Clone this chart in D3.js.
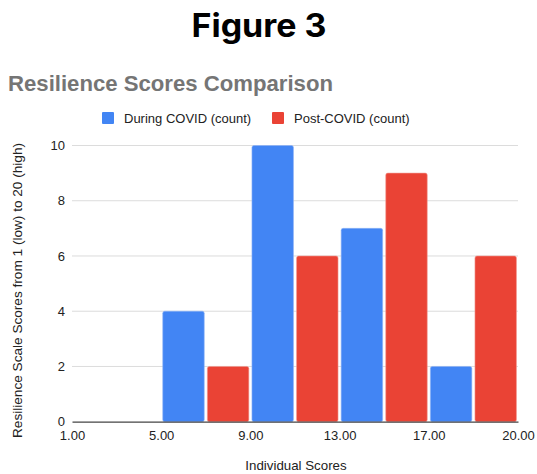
<!DOCTYPE html>
<html>
<head>
<meta charset="utf-8">
<script src="https://cdn.jsdelivr.net/npm/d3@7"></script>
<style>
  html, body { margin: 0; padding: 0; background: #fff; }
  svg { display: block; }
</style>
</head>
<body>
<svg id="chart" width="537" height="474"></svg>
<script>
// Bucket boundary labels along the x axis
const binLabels = ["1.00", "5.00", "9.00", "13.00", "17.00", "20.00"];
// Series names
const seriesNames = ["During COVID (count)", "Post-COVID (count)"];
// Counts per score bucket (1–5, 5–9, 9–13, 13–17, 17–20)
const duringCovid = [0, 4, 10, 7, 2];
const postCovid = [0, 2, 6, 9, 6];
// Y tick values
const yTicks = [0, 2, 4, 6, 8, 10];

const colors = ["#4285F4", "#EA4335"];
const svg = d3.select("#chart");
const W = 537, H = 474;
const margin = { left: 72, right: 19, top: 145.5, bottom: 52.3 };
const plotW = W - margin.left - margin.right;
const plotH = H - margin.top - margin.bottom;

const g = svg.append("g").attr("transform", `translate(${margin.left},${margin.top})`);

const x = d3.scaleLinear().domain([0, binLabels.length - 1]).range([0, plotW]);
const y = d3.scaleLinear().domain([0, 10]).range([plotH, 0]);
const sub = d3.scaleBand().domain(seriesNames).range([0, x(1) - x(0)]).paddingInner(0.07).paddingOuter(0.035);

// Heading
svg.append("text")
  .attr("x", 259).attr("y", 36.7)
  .attr("text-anchor", "middle")
  .style("font-family", "Inter, 'Open Sans', sans-serif")
  .style("font-weight", 700)
  .style("font-size", "32px")
  .attr("fill", "#000")
  .attr("textLength", 135)
  .attr("lengthAdjust", "spacingAndGlyphs")
  .text("Figure 3");

// Chart title
svg.append("text")
  .attr("x", 8).attr("y", 90.5)
  .style("font-family", "'Liberation Sans', Arial, sans-serif")
  .style("font-weight", 700)
  .style("font-size", "22px")
  .attr("fill", "#757575")
  .attr("textLength", 325)
  .attr("lengthAdjust", "spacingAndGlyphs")
  .text("Resilience Scores Comparison");

// Legend
const legendItems = [
  { name: seriesNames[0], color: colors[0], x: 102 },
  { name: seriesNames[1], color: colors[1], x: 272 }
];
const lg = svg.append("g").selectAll("g").data(legendItems).join("g")
  .attr("transform", d => `translate(${d.x},112)`);
lg.append("rect").attr("width", 12).attr("height", 12).attr("rx", 1).attr("fill", d => d.color);
lg.append("text")
  .attr("x", 22).attr("y", 10.5)
  .style("font-family", "'Liberation Sans', Arial, sans-serif")
  .style("font-size", "13px")
  .attr("fill", "#222")
  .text(d => d.name);

// Gridlines
g.append("g").selectAll("line").data(yTicks.filter(v => v > 0)).join("line")
  .attr("x1", 0).attr("x2", plotW)
  .attr("y1", d => y(d)).attr("y2", d => y(d))
  .attr("stroke", "#dcdcdc").attr("stroke-width", 1);

// Y axis labels
const yAxis = d3.axisLeft(y).tickValues(yTicks).tickSize(0).tickPadding(7).tickFormat(d3.format("d"));
g.append("g").call(yAxis)
  .call(s => s.select(".domain").remove())
  .call(s => s.selectAll("text")
    .style("font-family", "'Liberation Sans', Arial, sans-serif")
    .style("font-size", "13px")
    .attr("fill", "#222"));

// Bars
const rows = duringCovid.map((v, i) => ({ i, values: [v, postCovid[i]] }));
const groups = g.append("g").selectAll("g").data(rows).join("g")
  .attr("transform", d => `translate(${x(d.i)},0)`);
groups.selectAll("rect")
  .data(d => d.values.map((v, k) => ({ v, k })).filter(d => d.v > 0))
  .join("rect")
  .attr("x", d => sub(seriesNames[d.k]))
  .attr("width", sub.bandwidth())
  .attr("y", d => y(d.v))
  .attr("height", d => plotH - y(d.v))
  .attr("rx", 2)
  .attr("fill", d => colors[d.k])
  .attr("stroke", d => d.k === 0 ? "#8fb4f7" : "#f19a92")
  .attr("stroke-width", 0.6);

// X axis
const xAxis = d3.axisBottom(x).tickValues(d3.range(binLabels.length)).tickSize(0).tickPadding(9)
  .tickFormat(i => binLabels[i]);
g.append("g").attr("transform", `translate(0,${plotH})`).call(xAxis)
  .call(s => s.select(".domain").attr("stroke", "#444").attr("stroke-width", 1.2))
  .call(s => s.selectAll("text")
    .style("font-family", "'Liberation Sans', Arial, sans-serif")
    .style("font-size", "13px")
    .attr("fill", "#222"));

// Axis titles
svg.append("text")
  .attr("x", 296).attr("y", 470)
  .attr("text-anchor", "middle")
  .style("font-family", "'Liberation Sans', Arial, sans-serif")
  .style("font-size", "13.3px")
  .attr("fill", "#222")
  .text("Individual Scores");

svg.append("text")
  .attr("transform", "translate(22,290.5) rotate(-90)")
  .attr("text-anchor", "middle")
  .style("font-family", "'Liberation Sans', Arial, sans-serif")
  .style("font-size", "13.5px")
  .attr("fill", "#222")
  .attr("textLength", 295)
  .attr("lengthAdjust", "spacingAndGlyphs")
  .text("Resilience Scale Scores from 1 (low) to 20 (high)");
</script>
</body>
</html>
